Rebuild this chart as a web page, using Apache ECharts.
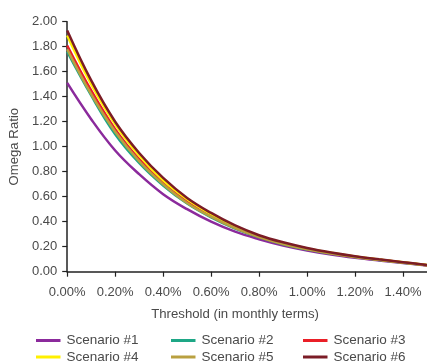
<!DOCTYPE html>
<html>
<head>
<meta charset="utf-8">
<script src="https://cdn.jsdelivr.net/npm/echarts@6/dist/echarts.min.js"></script>
<style>
  html, body { margin: 0; padding: 0; background: #fff; }
  #chart { width: 427px; height: 363px; }
</style>
</head>
<body>
<div id="chart"></div>
<script>
// threshold, in % per month
const thresholds = [0, 0.1, 0.2, 0.3, 0.4, 0.5, 0.6, 0.7, 0.8, 0.9, 1.0, 1.1, 1.2, 1.3, 1.4, 1.5]

const scenarioNames = ['Scenario #1', 'Scenario #2', 'Scenario #3', 'Scenario #4', 'Scenario #5', 'Scenario #6']
const scenarioColors = ['#8b2a9c', '#1ea786', '#ea1f27', '#fff000', '#b9a040', '#7b1c26']

// omega ratio
const scenario1 = [1.51, 1.22, 0.97, 0.78, 0.62, 0.50, 0.40, 0.32, 0.26, 0.21, 0.17, 0.138, 0.112, 0.09, 0.07, 0.05]
const scenario2 = [1.76, 1.41, 1.10, 0.87, 0.69, 0.545, 0.435, 0.345, 0.275, 0.22, 0.178, 0.145, 0.117, 0.094, 0.072, 0.051]
const scenario3 = [1.81, 1.45, 1.14, 0.90, 0.71, 0.56, 0.445, 0.352, 0.28, 0.225, 0.182, 0.148, 0.12, 0.096, 0.074, 0.052]
const scenario4 = [1.89, 1.50, 1.18, 0.93, 0.73, 0.58, 0.46, 0.362, 0.286, 0.23, 0.186, 0.151, 0.122, 0.097, 0.075, 0.053]
const scenario5 = [1.78, 1.42, 1.12, 0.885, 0.70, 0.55, 0.44, 0.348, 0.277, 0.222, 0.18, 0.146, 0.118, 0.095, 0.073, 0.051]
const scenario6 = [1.93, 1.53, 1.20, 0.95, 0.75, 0.59, 0.47, 0.37, 0.292, 0.235, 0.19, 0.154, 0.124, 0.099, 0.076, 0.054]
const scenarios = [scenario1, scenario2, scenario3, scenario4, scenario5, scenario6]

const chart = echarts.init(document.getElementById('chart'))

const font = 'Liberation Sans'
const textColor = '#4a4a4a'

// legend: 3 columns x 2 rows, line sits a bit under the text middle
const legendCols = [36, 171, 303]
const legendRows = [333.5, 350]
const legends = scenarioNames.map((name, i) => ({
  data: [name],
  left: legendCols[i % 3],
  top: legendRows[Math.floor(i / 3)],
  itemWidth: 24.5,
  itemHeight: 3,
  itemGap: 0,
  icon: 'rect',
  padding: 0,
  textStyle: { fontFamily: font, fontSize: 13.5, color: textColor, padding: [0, 0, 6, 1] }
}))

const option = {
  animation: false,
  grid: { left: 67, top: 21.7, width: 363, height: 250 },
  legend: legends,
  xAxis: {
    type: 'value',
    min: 0,
    max: 1.5,
    interval: 0.2,
    name: 'Threshold (in monthly terms)',
    nameLocation: 'middle',
    nameGap: 36.5,
    nameTextStyle: { fontFamily: font, fontSize: 13.2, color: textColor, padding: [0, 24, 0, 0] },
    splitLine: { show: false },
    axisLine: { lineStyle: { color: '#222', width: 1.5 } },
    axisTick: { length: 5, lineStyle: { color: '#222', width: 1.2 } },
    axisLabel: {
      margin: 14,
      showMaxLabel: false,
      fontFamily: font,
      fontSize: 13,
      color: textColor,
      formatter: v => v.toFixed(2) + '%'
    }
  },
  yAxis: {
    type: 'value',
    min: 0,
    max: 2,
    interval: 0.2,
    name: 'Omega Ratio',
    nameLocation: 'middle',
    nameGap: 39,
    nameTextStyle: { fontFamily: font, fontSize: 13.2, color: textColor },
    splitLine: { show: false },
    axisLine: { show: true, lineStyle: { color: '#222', width: 1.5 } },
    axisTick: { show: true, length: 5, lineStyle: { color: '#222', width: 1.2 } },
    axisLabel: {
      margin: 10,
      fontFamily: font,
      fontSize: 13,
      color: textColor,
      formatter: v => v.toFixed(2)
    }
  },
  series: scenarios.map((vals, i) => ({
    name: scenarioNames[i],
    type: 'line',
    smooth: 0.4,
    symbol: 'none',
    color: scenarioColors[i],
    lineStyle: { width: 2.5, color: scenarioColors[i] },
    data: thresholds.map((t, j) => [t, vals[j]])
  }))
}

chart.setOption(option)
</script>
</body>
</html>
